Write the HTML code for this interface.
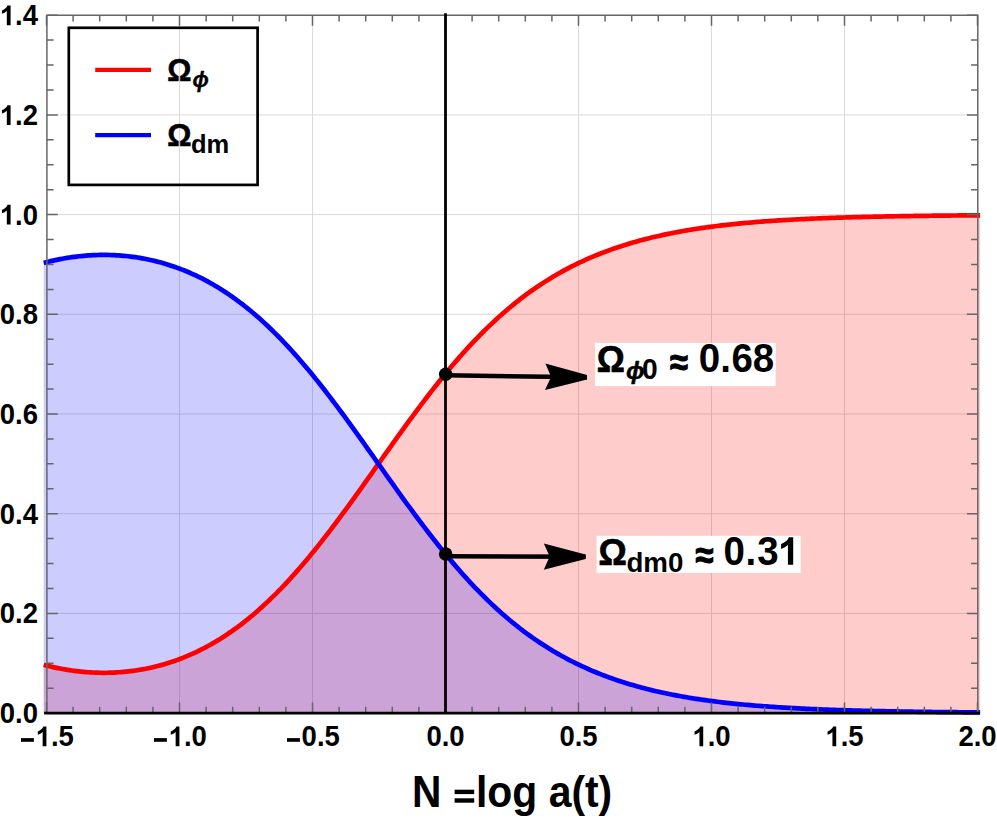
<!DOCTYPE html>
<html><head><meta charset="utf-8"><title>Omega plot</title>
<style>
html,body{margin:0;padding:0;background:#fff;}
body{width:997px;height:822px;overflow:hidden;}
svg{display:block;}
text{font-family:"Liberation Sans",sans-serif;font-weight:bold;fill:#000;}
</style></head><body>
<svg width="997" height="822" viewBox="0 0 997 822">
<rect width="997" height="822" fill="#fff"/>
<path d="M179.50,15.20 V713.10 M312.50,15.20 V713.10 M445.50,15.20 V713.10 M578.50,15.20 V713.10 M711.50,15.20 V713.10 M844.50,15.20 V713.10 M46.50,613.40 H977.50 M46.50,513.70 H977.50 M46.50,414.00 H977.50 M46.50,314.30 H977.50 M46.50,214.60 H977.50 M46.50,114.90 H977.50" stroke="#dadada" stroke-width="1" fill="none"/>
<path d="M43.71,664.79 L46.05,665.40 L48.40,665.99 L50.75,666.55 L53.09,667.09 L55.44,667.61 L57.79,668.10 L60.14,668.57 L62.48,669.01 L64.83,669.42 L67.18,669.81 L69.52,670.18 L71.87,670.53 L74.22,670.84 L76.56,671.14 L78.91,671.41 L81.26,671.66 L83.60,671.88 L85.95,672.08 L88.30,672.25 L90.64,672.40 L92.99,672.52 L95.34,672.62 L97.68,672.70 L100.03,672.75 L102.38,672.78 L104.73,672.78 L107.07,672.75 L109.42,672.71 L111.77,672.64 L114.11,672.54 L116.46,672.42 L118.81,672.27 L121.15,672.09 L123.50,671.90 L125.85,671.67 L128.19,671.42 L130.54,671.15 L132.89,670.84 L135.23,670.52 L137.58,670.16 L139.93,669.78 L142.28,669.37 L144.62,668.94 L146.97,668.47 L149.32,667.98 L151.66,667.46 L154.01,666.92 L156.36,666.34 L158.70,665.74 L161.05,665.11 L163.40,664.45 L165.74,663.76 L168.09,663.04 L170.44,662.29 L172.78,661.51 L175.13,660.70 L177.48,659.86 L179.83,658.99 L182.17,658.09 L184.52,657.16 L186.87,656.19 L189.21,655.20 L191.56,654.17 L193.91,653.10 L196.25,652.01 L198.60,650.88 L200.95,649.72 L203.29,648.52 L205.64,647.30 L207.99,646.03 L210.33,644.73 L212.68,643.40 L215.03,642.03 L217.38,640.63 L219.72,639.19 L222.07,637.71 L224.42,636.20 L226.76,634.66 L229.11,633.07 L231.46,631.45 L233.80,629.79 L236.15,628.10 L238.50,626.37 L240.84,624.60 L243.19,622.79 L245.54,620.95 L247.88,619.07 L250.23,617.15 L252.58,615.19 L254.93,613.20 L257.27,611.16 L259.62,609.09 L261.97,606.98 L264.31,604.84 L266.66,602.65 L269.01,600.43 L271.35,598.17 L273.70,595.88 L276.05,593.55 L278.39,591.18 L280.74,588.77 L283.09,586.33 L285.43,583.85 L287.78,581.33 L290.13,578.79 L292.47,576.20 L294.82,573.58 L297.17,570.93 L299.52,568.24 L301.86,565.52 L304.21,562.77 L306.56,559.99 L308.90,557.18 L311.25,554.33 L313.60,551.46 L315.94,548.55 L318.29,545.62 L320.64,542.66 L322.98,539.67 L325.33,536.66 L327.68,533.62 L330.02,530.56 L332.37,527.48 L334.72,524.37 L337.07,521.24 L339.41,518.10 L341.76,514.93 L344.11,511.74 L346.45,508.54 L348.80,505.32 L351.15,502.09 L353.49,498.84 L355.84,495.59 L358.19,492.32 L360.53,489.03 L362.88,485.75 L365.23,482.45 L367.57,479.15 L369.92,475.84 L372.27,472.52 L374.62,469.21 L376.96,465.89 L379.31,462.58 L381.66,459.26 L384.00,455.95 L386.35,452.64 L388.70,449.33 L391.04,446.03 L393.39,442.74 L395.74,439.45 L398.08,436.18 L400.43,432.91 L402.78,429.66 L405.12,426.42 L407.47,423.19 L409.82,419.98 L412.17,416.79 L414.51,413.61 L416.86,410.45 L419.21,407.31 L421.55,404.19 L423.90,401.09 L426.25,398.01 L428.59,394.95 L430.94,391.92 L433.29,388.92 L435.63,385.94 L437.98,382.98 L440.33,380.05 L442.67,377.15 L445.02,374.27 L447.37,371.43 L449.71,368.61 L452.06,365.83 L454.41,363.07 L456.76,360.35 L459.10,357.65 L461.45,354.99 L463.80,352.36 L466.14,349.76 L468.49,347.19 L470.84,344.66 L473.18,342.16 L475.53,339.69 L477.88,337.26 L480.22,334.86 L482.57,332.49 L484.92,330.16 L487.26,327.86 L489.61,325.60 L491.96,323.37 L494.31,321.17 L496.65,319.01 L499.00,316.88 L501.35,314.78 L503.69,312.72 L506.04,310.69 L508.39,308.70 L510.73,306.74 L513.08,304.81 L515.43,302.91 L517.77,301.05 L520.12,299.22 L522.47,297.42 L524.81,295.65 L527.16,293.91 L529.51,292.21 L531.86,290.53 L534.20,288.89 L536.55,287.27 L538.90,285.69 L541.24,284.14 L543.59,282.61 L545.94,281.11 L548.28,279.65 L550.63,278.21 L552.98,276.79 L555.32,275.41 L557.67,274.05 L560.02,272.72 L562.36,271.42 L564.71,270.14 L567.06,268.88 L569.41,267.65 L571.75,266.45 L574.10,265.27 L576.45,264.11 L578.79,262.98 L581.14,261.87 L583.49,260.79 L585.83,259.72 L588.18,258.68 L590.53,257.66 L592.87,256.66 L595.22,255.68 L597.57,254.72 L599.91,253.78 L602.26,252.87 L604.61,251.97 L606.95,251.09 L609.30,250.23 L611.65,249.39 L614.00,248.56 L616.34,247.76 L618.69,246.97 L621.04,246.20 L623.38,245.44 L625.73,244.70 L628.08,243.98 L630.42,243.28 L632.77,242.59 L635.12,241.91 L637.46,241.25 L639.81,240.60 L642.16,239.97 L644.50,239.36 L646.85,238.75 L649.20,238.17 L651.55,237.59 L653.89,237.03 L656.24,236.48 L658.59,235.94 L660.93,235.42 L663.28,234.90 L665.63,234.40 L667.97,233.91 L670.32,233.44 L672.67,232.97 L675.01,232.52 L677.36,232.07 L679.71,231.64 L682.05,231.21 L684.40,230.80 L686.75,230.40 L689.10,230.00 L691.44,229.62 L693.79,229.24 L696.14,228.88 L698.48,228.52 L700.83,228.17 L703.18,227.83 L705.52,227.50 L707.87,227.17 L710.22,226.86 L712.56,226.55 L714.91,226.25 L717.26,225.96 L719.60,225.67 L721.95,225.39 L724.30,225.12 L726.65,224.86 L728.99,224.60 L731.34,224.35 L733.69,224.10 L736.03,223.86 L738.38,223.63 L740.73,223.40 L743.07,223.18 L745.42,222.96 L747.77,222.75 L750.11,222.55 L752.46,222.35 L754.81,222.15 L757.15,221.96 L759.50,221.78 L761.85,221.60 L764.20,221.42 L766.54,221.25 L768.89,221.08 L771.24,220.92 L773.58,220.76 L775.93,220.61 L778.28,220.46 L780.62,220.31 L782.97,220.17 L785.32,220.03 L787.66,219.89 L790.01,219.76 L792.36,219.63 L794.70,219.50 L797.05,219.38 L799.40,219.26 L801.74,219.15 L804.09,219.03 L806.44,218.92 L808.79,218.81 L811.13,218.71 L813.48,218.61 L815.83,218.51 L818.17,218.41 L820.52,218.31 L822.87,218.22 L825.21,218.13 L827.56,218.04 L829.91,217.96 L832.25,217.88 L834.60,217.79 L836.95,217.72 L839.29,217.64 L841.64,217.56 L843.99,217.49 L846.34,217.42 L848.68,217.35 L851.03,217.28 L853.38,217.21 L855.72,217.15 L858.07,217.09 L860.42,217.03 L862.76,216.97 L865.11,216.91 L867.46,216.85 L869.80,216.79 L872.15,216.74 L874.50,216.69 L876.84,216.64 L879.19,216.59 L881.54,216.54 L883.89,216.49 L886.23,216.44 L888.58,216.40 L890.93,216.35 L893.27,216.31 L895.62,216.27 L897.97,216.23 L900.31,216.19 L902.66,216.15 L905.01,216.11 L907.35,216.07 L909.70,216.04 L912.05,216.00 L914.39,215.97 L916.74,215.93 L919.09,215.90 L921.44,215.87 L923.78,215.84 L926.13,215.81 L928.48,215.78 L930.82,215.75 L933.17,215.72 L935.52,215.70 L937.86,215.67 L940.21,215.64 L942.56,215.62 L944.90,215.59 L947.25,215.57 L949.60,215.54 L951.94,215.52 L954.29,215.50 L956.64,215.48 L958.98,215.46 L961.33,215.43 L963.68,215.41 L966.03,215.39 L968.37,215.38 L970.72,215.36 L973.07,215.34 L975.41,215.32 L977.76,215.30 L980.11,215.29 L980.11,713.10 L43.71,713.10 Z" fill="#ff0000" fill-opacity="0.2"/>
<path d="M43.71,262.91 L46.05,262.30 L48.40,261.71 L50.75,261.15 L53.09,260.61 L55.44,260.09 L57.79,259.60 L60.14,259.13 L62.48,258.69 L64.83,258.28 L67.18,257.89 L69.52,257.52 L71.87,257.17 L74.22,256.86 L76.56,256.56 L78.91,256.29 L81.26,256.04 L83.60,255.82 L85.95,255.62 L88.30,255.45 L90.64,255.30 L92.99,255.18 L95.34,255.08 L97.68,255.00 L100.03,254.95 L102.38,254.92 L104.73,254.92 L107.07,254.95 L109.42,254.99 L111.77,255.06 L114.11,255.16 L116.46,255.28 L118.81,255.43 L121.15,255.61 L123.50,255.80 L125.85,256.03 L128.19,256.28 L130.54,256.55 L132.89,256.86 L135.23,257.18 L137.58,257.54 L139.93,257.92 L142.28,258.33 L144.62,258.76 L146.97,259.23 L149.32,259.72 L151.66,260.24 L154.01,260.78 L156.36,261.36 L158.70,261.96 L161.05,262.59 L163.40,263.25 L165.74,263.94 L168.09,264.66 L170.44,265.41 L172.78,266.19 L175.13,267.00 L177.48,267.84 L179.83,268.71 L182.17,269.61 L184.52,270.54 L186.87,271.51 L189.21,272.50 L191.56,273.53 L193.91,274.60 L196.25,275.69 L198.60,276.82 L200.95,277.98 L203.29,279.18 L205.64,280.40 L207.99,281.67 L210.33,282.97 L212.68,284.30 L215.03,285.67 L217.38,287.07 L219.72,288.51 L222.07,289.99 L224.42,291.50 L226.76,293.04 L229.11,294.63 L231.46,296.25 L233.80,297.91 L236.15,299.60 L238.50,301.33 L240.84,303.10 L243.19,304.91 L245.54,306.75 L247.88,308.63 L250.23,310.55 L252.58,312.51 L254.93,314.50 L257.27,316.54 L259.62,318.61 L261.97,320.72 L264.31,322.86 L266.66,325.05 L269.01,327.27 L271.35,329.53 L273.70,331.82 L276.05,334.15 L278.39,336.52 L280.74,338.93 L283.09,341.37 L285.43,343.85 L287.78,346.37 L290.13,348.91 L292.47,351.50 L294.82,354.12 L297.17,356.77 L299.52,359.46 L301.86,362.18 L304.21,364.93 L306.56,367.71 L308.90,370.52 L311.25,373.37 L313.60,376.24 L315.94,379.15 L318.29,382.08 L320.64,385.04 L322.98,388.03 L325.33,391.04 L327.68,394.08 L330.02,397.14 L332.37,400.22 L334.72,403.33 L337.07,406.46 L339.41,409.60 L341.76,412.77 L344.11,415.96 L346.45,419.16 L348.80,422.38 L351.15,425.61 L353.49,428.86 L355.84,432.11 L358.19,435.38 L360.53,438.67 L362.88,441.95 L365.23,445.25 L367.57,448.55 L369.92,451.86 L372.27,455.18 L374.62,458.49 L376.96,461.81 L379.31,465.12 L381.66,468.44 L384.00,471.75 L386.35,475.06 L388.70,478.37 L391.04,481.67 L393.39,484.96 L395.74,488.25 L398.08,491.52 L400.43,494.79 L402.78,498.04 L405.12,501.28 L407.47,504.51 L409.82,507.72 L412.17,510.91 L414.51,514.09 L416.86,517.25 L419.21,520.39 L421.55,523.51 L423.90,526.61 L426.25,529.69 L428.59,532.75 L430.94,535.78 L433.29,538.78 L435.63,541.76 L437.98,544.72 L440.33,547.65 L442.67,550.55 L445.02,553.43 L447.37,556.27 L449.71,559.09 L452.06,561.87 L454.41,564.63 L456.76,567.35 L459.10,570.05 L461.45,572.71 L463.80,575.34 L466.14,577.94 L468.49,580.51 L470.84,583.04 L473.18,585.54 L475.53,588.01 L477.88,590.44 L480.22,592.84 L482.57,595.21 L484.92,597.54 L487.26,599.84 L489.61,602.10 L491.96,604.33 L494.31,606.53 L496.65,608.69 L499.00,610.82 L501.35,612.92 L503.69,614.98 L506.04,617.01 L508.39,619.00 L510.73,620.96 L513.08,622.89 L515.43,624.79 L517.77,626.65 L520.12,628.48 L522.47,630.28 L524.81,632.05 L527.16,633.79 L529.51,635.49 L531.86,637.17 L534.20,638.81 L536.55,640.43 L538.90,642.01 L541.24,643.56 L543.59,645.09 L545.94,646.59 L548.28,648.05 L550.63,649.49 L552.98,650.91 L555.32,652.29 L557.67,653.65 L560.02,654.98 L562.36,656.28 L564.71,657.56 L567.06,658.82 L569.41,660.05 L571.75,661.25 L574.10,662.43 L576.45,663.59 L578.79,664.72 L581.14,665.83 L583.49,666.91 L585.83,667.98 L588.18,669.02 L590.53,670.04 L592.87,671.04 L595.22,672.02 L597.57,672.98 L599.91,673.92 L602.26,674.83 L604.61,675.73 L606.95,676.61 L609.30,677.47 L611.65,678.31 L614.00,679.14 L616.34,679.94 L618.69,680.73 L621.04,681.50 L623.38,682.26 L625.73,683.00 L628.08,683.72 L630.42,684.42 L632.77,685.11 L635.12,685.79 L637.46,686.45 L639.81,687.10 L642.16,687.73 L644.50,688.34 L646.85,688.95 L649.20,689.53 L651.55,690.11 L653.89,690.67 L656.24,691.22 L658.59,691.76 L660.93,692.28 L663.28,692.80 L665.63,693.30 L667.97,693.79 L670.32,694.26 L672.67,694.73 L675.01,695.18 L677.36,695.63 L679.71,696.06 L682.05,696.49 L684.40,696.90 L686.75,697.30 L689.10,697.70 L691.44,698.08 L693.79,698.46 L696.14,698.82 L698.48,699.18 L700.83,699.53 L703.18,699.87 L705.52,700.20 L707.87,700.53 L710.22,700.84 L712.56,701.15 L714.91,701.45 L717.26,701.74 L719.60,702.03 L721.95,702.31 L724.30,702.58 L726.65,702.84 L728.99,703.10 L731.34,703.35 L733.69,703.60 L736.03,703.84 L738.38,704.07 L740.73,704.30 L743.07,704.52 L745.42,704.74 L747.77,704.95 L750.11,705.15 L752.46,705.35 L754.81,705.55 L757.15,705.74 L759.50,705.92 L761.85,706.10 L764.20,706.28 L766.54,706.45 L768.89,706.62 L771.24,706.78 L773.58,706.94 L775.93,707.09 L778.28,707.24 L780.62,707.39 L782.97,707.53 L785.32,707.67 L787.66,707.81 L790.01,707.94 L792.36,708.07 L794.70,708.20 L797.05,708.32 L799.40,708.44 L801.74,708.55 L804.09,708.67 L806.44,708.78 L808.79,708.89 L811.13,708.99 L813.48,709.09 L815.83,709.19 L818.17,709.29 L820.52,709.39 L822.87,709.48 L825.21,709.57 L827.56,709.66 L829.91,709.74 L832.25,709.82 L834.60,709.91 L836.95,709.98 L839.29,710.06 L841.64,710.14 L843.99,710.21 L846.34,710.28 L848.68,710.35 L851.03,710.42 L853.38,710.49 L855.72,710.55 L858.07,710.61 L860.42,710.67 L862.76,710.73 L865.11,710.79 L867.46,710.85 L869.80,710.91 L872.15,710.96 L874.50,711.01 L876.84,711.06 L879.19,711.11 L881.54,711.16 L883.89,711.21 L886.23,711.26 L888.58,711.30 L890.93,711.35 L893.27,711.39 L895.62,711.43 L897.97,711.47 L900.31,711.51 L902.66,711.55 L905.01,711.59 L907.35,711.63 L909.70,711.66 L912.05,711.70 L914.39,711.73 L916.74,711.77 L919.09,711.80 L921.44,711.83 L923.78,711.86 L926.13,711.89 L928.48,711.92 L930.82,711.95 L933.17,711.98 L935.52,712.00 L937.86,712.03 L940.21,712.06 L942.56,712.08 L944.90,712.11 L947.25,712.13 L949.60,712.16 L951.94,712.18 L954.29,712.20 L956.64,712.22 L958.98,712.24 L961.33,712.27 L963.68,712.29 L966.03,712.31 L968.37,712.32 L970.72,712.34 L973.07,712.36 L975.41,712.38 L977.76,712.40 L980.11,712.41 L980.11,713.10 L43.71,713.10 Z" fill="#0000ff" fill-opacity="0.2"/>
<path d="M43.71,664.79 L46.05,665.40 L48.40,665.99 L50.75,666.55 L53.09,667.09 L55.44,667.61 L57.79,668.10 L60.14,668.57 L62.48,669.01 L64.83,669.42 L67.18,669.81 L69.52,670.18 L71.87,670.53 L74.22,670.84 L76.56,671.14 L78.91,671.41 L81.26,671.66 L83.60,671.88 L85.95,672.08 L88.30,672.25 L90.64,672.40 L92.99,672.52 L95.34,672.62 L97.68,672.70 L100.03,672.75 L102.38,672.78 L104.73,672.78 L107.07,672.75 L109.42,672.71 L111.77,672.64 L114.11,672.54 L116.46,672.42 L118.81,672.27 L121.15,672.09 L123.50,671.90 L125.85,671.67 L128.19,671.42 L130.54,671.15 L132.89,670.84 L135.23,670.52 L137.58,670.16 L139.93,669.78 L142.28,669.37 L144.62,668.94 L146.97,668.47 L149.32,667.98 L151.66,667.46 L154.01,666.92 L156.36,666.34 L158.70,665.74 L161.05,665.11 L163.40,664.45 L165.74,663.76 L168.09,663.04 L170.44,662.29 L172.78,661.51 L175.13,660.70 L177.48,659.86 L179.83,658.99 L182.17,658.09 L184.52,657.16 L186.87,656.19 L189.21,655.20 L191.56,654.17 L193.91,653.10 L196.25,652.01 L198.60,650.88 L200.95,649.72 L203.29,648.52 L205.64,647.30 L207.99,646.03 L210.33,644.73 L212.68,643.40 L215.03,642.03 L217.38,640.63 L219.72,639.19 L222.07,637.71 L224.42,636.20 L226.76,634.66 L229.11,633.07 L231.46,631.45 L233.80,629.79 L236.15,628.10 L238.50,626.37 L240.84,624.60 L243.19,622.79 L245.54,620.95 L247.88,619.07 L250.23,617.15 L252.58,615.19 L254.93,613.20 L257.27,611.16 L259.62,609.09 L261.97,606.98 L264.31,604.84 L266.66,602.65 L269.01,600.43 L271.35,598.17 L273.70,595.88 L276.05,593.55 L278.39,591.18 L280.74,588.77 L283.09,586.33 L285.43,583.85 L287.78,581.33 L290.13,578.79 L292.47,576.20 L294.82,573.58 L297.17,570.93 L299.52,568.24 L301.86,565.52 L304.21,562.77 L306.56,559.99 L308.90,557.18 L311.25,554.33 L313.60,551.46 L315.94,548.55 L318.29,545.62 L320.64,542.66 L322.98,539.67 L325.33,536.66 L327.68,533.62 L330.02,530.56 L332.37,527.48 L334.72,524.37 L337.07,521.24 L339.41,518.10 L341.76,514.93 L344.11,511.74 L346.45,508.54 L348.80,505.32 L351.15,502.09 L353.49,498.84 L355.84,495.59 L358.19,492.32 L360.53,489.03 L362.88,485.75 L365.23,482.45 L367.57,479.15 L369.92,475.84 L372.27,472.52 L374.62,469.21 L376.96,465.89 L379.31,462.58 L381.66,459.26 L384.00,455.95 L386.35,452.64 L388.70,449.33 L391.04,446.03 L393.39,442.74 L395.74,439.45 L398.08,436.18 L400.43,432.91 L402.78,429.66 L405.12,426.42 L407.47,423.19 L409.82,419.98 L412.17,416.79 L414.51,413.61 L416.86,410.45 L419.21,407.31 L421.55,404.19 L423.90,401.09 L426.25,398.01 L428.59,394.95 L430.94,391.92 L433.29,388.92 L435.63,385.94 L437.98,382.98 L440.33,380.05 L442.67,377.15 L445.02,374.27 L447.37,371.43 L449.71,368.61 L452.06,365.83 L454.41,363.07 L456.76,360.35 L459.10,357.65 L461.45,354.99 L463.80,352.36 L466.14,349.76 L468.49,347.19 L470.84,344.66 L473.18,342.16 L475.53,339.69 L477.88,337.26 L480.22,334.86 L482.57,332.49 L484.92,330.16 L487.26,327.86 L489.61,325.60 L491.96,323.37 L494.31,321.17 L496.65,319.01 L499.00,316.88 L501.35,314.78 L503.69,312.72 L506.04,310.69 L508.39,308.70 L510.73,306.74 L513.08,304.81 L515.43,302.91 L517.77,301.05 L520.12,299.22 L522.47,297.42 L524.81,295.65 L527.16,293.91 L529.51,292.21 L531.86,290.53 L534.20,288.89 L536.55,287.27 L538.90,285.69 L541.24,284.14 L543.59,282.61 L545.94,281.11 L548.28,279.65 L550.63,278.21 L552.98,276.79 L555.32,275.41 L557.67,274.05 L560.02,272.72 L562.36,271.42 L564.71,270.14 L567.06,268.88 L569.41,267.65 L571.75,266.45 L574.10,265.27 L576.45,264.11 L578.79,262.98 L581.14,261.87 L583.49,260.79 L585.83,259.72 L588.18,258.68 L590.53,257.66 L592.87,256.66 L595.22,255.68 L597.57,254.72 L599.91,253.78 L602.26,252.87 L604.61,251.97 L606.95,251.09 L609.30,250.23 L611.65,249.39 L614.00,248.56 L616.34,247.76 L618.69,246.97 L621.04,246.20 L623.38,245.44 L625.73,244.70 L628.08,243.98 L630.42,243.28 L632.77,242.59 L635.12,241.91 L637.46,241.25 L639.81,240.60 L642.16,239.97 L644.50,239.36 L646.85,238.75 L649.20,238.17 L651.55,237.59 L653.89,237.03 L656.24,236.48 L658.59,235.94 L660.93,235.42 L663.28,234.90 L665.63,234.40 L667.97,233.91 L670.32,233.44 L672.67,232.97 L675.01,232.52 L677.36,232.07 L679.71,231.64 L682.05,231.21 L684.40,230.80 L686.75,230.40 L689.10,230.00 L691.44,229.62 L693.79,229.24 L696.14,228.88 L698.48,228.52 L700.83,228.17 L703.18,227.83 L705.52,227.50 L707.87,227.17 L710.22,226.86 L712.56,226.55 L714.91,226.25 L717.26,225.96 L719.60,225.67 L721.95,225.39 L724.30,225.12 L726.65,224.86 L728.99,224.60 L731.34,224.35 L733.69,224.10 L736.03,223.86 L738.38,223.63 L740.73,223.40 L743.07,223.18 L745.42,222.96 L747.77,222.75 L750.11,222.55 L752.46,222.35 L754.81,222.15 L757.15,221.96 L759.50,221.78 L761.85,221.60 L764.20,221.42 L766.54,221.25 L768.89,221.08 L771.24,220.92 L773.58,220.76 L775.93,220.61 L778.28,220.46 L780.62,220.31 L782.97,220.17 L785.32,220.03 L787.66,219.89 L790.01,219.76 L792.36,219.63 L794.70,219.50 L797.05,219.38 L799.40,219.26 L801.74,219.15 L804.09,219.03 L806.44,218.92 L808.79,218.81 L811.13,218.71 L813.48,218.61 L815.83,218.51 L818.17,218.41 L820.52,218.31 L822.87,218.22 L825.21,218.13 L827.56,218.04 L829.91,217.96 L832.25,217.88 L834.60,217.79 L836.95,217.72 L839.29,217.64 L841.64,217.56 L843.99,217.49 L846.34,217.42 L848.68,217.35 L851.03,217.28 L853.38,217.21 L855.72,217.15 L858.07,217.09 L860.42,217.03 L862.76,216.97 L865.11,216.91 L867.46,216.85 L869.80,216.79 L872.15,216.74 L874.50,216.69 L876.84,216.64 L879.19,216.59 L881.54,216.54 L883.89,216.49 L886.23,216.44 L888.58,216.40 L890.93,216.35 L893.27,216.31 L895.62,216.27 L897.97,216.23 L900.31,216.19 L902.66,216.15 L905.01,216.11 L907.35,216.07 L909.70,216.04 L912.05,216.00 L914.39,215.97 L916.74,215.93 L919.09,215.90 L921.44,215.87 L923.78,215.84 L926.13,215.81 L928.48,215.78 L930.82,215.75 L933.17,215.72 L935.52,215.70 L937.86,215.67 L940.21,215.64 L942.56,215.62 L944.90,215.59 L947.25,215.57 L949.60,215.54 L951.94,215.52 L954.29,215.50 L956.64,215.48 L958.98,215.46 L961.33,215.43 L963.68,215.41 L966.03,215.39 L968.37,215.38 L970.72,215.36 L973.07,215.34 L975.41,215.32 L977.76,215.30 L980.11,215.29" fill="none" stroke="#ff0000" stroke-width="4.7" stroke-linejoin="round"/>
<path d="M43.71,262.91 L46.05,262.30 L48.40,261.71 L50.75,261.15 L53.09,260.61 L55.44,260.09 L57.79,259.60 L60.14,259.13 L62.48,258.69 L64.83,258.28 L67.18,257.89 L69.52,257.52 L71.87,257.17 L74.22,256.86 L76.56,256.56 L78.91,256.29 L81.26,256.04 L83.60,255.82 L85.95,255.62 L88.30,255.45 L90.64,255.30 L92.99,255.18 L95.34,255.08 L97.68,255.00 L100.03,254.95 L102.38,254.92 L104.73,254.92 L107.07,254.95 L109.42,254.99 L111.77,255.06 L114.11,255.16 L116.46,255.28 L118.81,255.43 L121.15,255.61 L123.50,255.80 L125.85,256.03 L128.19,256.28 L130.54,256.55 L132.89,256.86 L135.23,257.18 L137.58,257.54 L139.93,257.92 L142.28,258.33 L144.62,258.76 L146.97,259.23 L149.32,259.72 L151.66,260.24 L154.01,260.78 L156.36,261.36 L158.70,261.96 L161.05,262.59 L163.40,263.25 L165.74,263.94 L168.09,264.66 L170.44,265.41 L172.78,266.19 L175.13,267.00 L177.48,267.84 L179.83,268.71 L182.17,269.61 L184.52,270.54 L186.87,271.51 L189.21,272.50 L191.56,273.53 L193.91,274.60 L196.25,275.69 L198.60,276.82 L200.95,277.98 L203.29,279.18 L205.64,280.40 L207.99,281.67 L210.33,282.97 L212.68,284.30 L215.03,285.67 L217.38,287.07 L219.72,288.51 L222.07,289.99 L224.42,291.50 L226.76,293.04 L229.11,294.63 L231.46,296.25 L233.80,297.91 L236.15,299.60 L238.50,301.33 L240.84,303.10 L243.19,304.91 L245.54,306.75 L247.88,308.63 L250.23,310.55 L252.58,312.51 L254.93,314.50 L257.27,316.54 L259.62,318.61 L261.97,320.72 L264.31,322.86 L266.66,325.05 L269.01,327.27 L271.35,329.53 L273.70,331.82 L276.05,334.15 L278.39,336.52 L280.74,338.93 L283.09,341.37 L285.43,343.85 L287.78,346.37 L290.13,348.91 L292.47,351.50 L294.82,354.12 L297.17,356.77 L299.52,359.46 L301.86,362.18 L304.21,364.93 L306.56,367.71 L308.90,370.52 L311.25,373.37 L313.60,376.24 L315.94,379.15 L318.29,382.08 L320.64,385.04 L322.98,388.03 L325.33,391.04 L327.68,394.08 L330.02,397.14 L332.37,400.22 L334.72,403.33 L337.07,406.46 L339.41,409.60 L341.76,412.77 L344.11,415.96 L346.45,419.16 L348.80,422.38 L351.15,425.61 L353.49,428.86 L355.84,432.11 L358.19,435.38 L360.53,438.67 L362.88,441.95 L365.23,445.25 L367.57,448.55 L369.92,451.86 L372.27,455.18 L374.62,458.49 L376.96,461.81 L379.31,465.12 L381.66,468.44 L384.00,471.75 L386.35,475.06 L388.70,478.37 L391.04,481.67 L393.39,484.96 L395.74,488.25 L398.08,491.52 L400.43,494.79 L402.78,498.04 L405.12,501.28 L407.47,504.51 L409.82,507.72 L412.17,510.91 L414.51,514.09 L416.86,517.25 L419.21,520.39 L421.55,523.51 L423.90,526.61 L426.25,529.69 L428.59,532.75 L430.94,535.78 L433.29,538.78 L435.63,541.76 L437.98,544.72 L440.33,547.65 L442.67,550.55 L445.02,553.43 L447.37,556.27 L449.71,559.09 L452.06,561.87 L454.41,564.63 L456.76,567.35 L459.10,570.05 L461.45,572.71 L463.80,575.34 L466.14,577.94 L468.49,580.51 L470.84,583.04 L473.18,585.54 L475.53,588.01 L477.88,590.44 L480.22,592.84 L482.57,595.21 L484.92,597.54 L487.26,599.84 L489.61,602.10 L491.96,604.33 L494.31,606.53 L496.65,608.69 L499.00,610.82 L501.35,612.92 L503.69,614.98 L506.04,617.01 L508.39,619.00 L510.73,620.96 L513.08,622.89 L515.43,624.79 L517.77,626.65 L520.12,628.48 L522.47,630.28 L524.81,632.05 L527.16,633.79 L529.51,635.49 L531.86,637.17 L534.20,638.81 L536.55,640.43 L538.90,642.01 L541.24,643.56 L543.59,645.09 L545.94,646.59 L548.28,648.05 L550.63,649.49 L552.98,650.91 L555.32,652.29 L557.67,653.65 L560.02,654.98 L562.36,656.28 L564.71,657.56 L567.06,658.82 L569.41,660.05 L571.75,661.25 L574.10,662.43 L576.45,663.59 L578.79,664.72 L581.14,665.83 L583.49,666.91 L585.83,667.98 L588.18,669.02 L590.53,670.04 L592.87,671.04 L595.22,672.02 L597.57,672.98 L599.91,673.92 L602.26,674.83 L604.61,675.73 L606.95,676.61 L609.30,677.47 L611.65,678.31 L614.00,679.14 L616.34,679.94 L618.69,680.73 L621.04,681.50 L623.38,682.26 L625.73,683.00 L628.08,683.72 L630.42,684.42 L632.77,685.11 L635.12,685.79 L637.46,686.45 L639.81,687.10 L642.16,687.73 L644.50,688.34 L646.85,688.95 L649.20,689.53 L651.55,690.11 L653.89,690.67 L656.24,691.22 L658.59,691.76 L660.93,692.28 L663.28,692.80 L665.63,693.30 L667.97,693.79 L670.32,694.26 L672.67,694.73 L675.01,695.18 L677.36,695.63 L679.71,696.06 L682.05,696.49 L684.40,696.90 L686.75,697.30 L689.10,697.70 L691.44,698.08 L693.79,698.46 L696.14,698.82 L698.48,699.18 L700.83,699.53 L703.18,699.87 L705.52,700.20 L707.87,700.53 L710.22,700.84 L712.56,701.15 L714.91,701.45 L717.26,701.74 L719.60,702.03 L721.95,702.31 L724.30,702.58 L726.65,702.84 L728.99,703.10 L731.34,703.35 L733.69,703.60 L736.03,703.84 L738.38,704.07 L740.73,704.30 L743.07,704.52 L745.42,704.74 L747.77,704.95 L750.11,705.15 L752.46,705.35 L754.81,705.55 L757.15,705.74 L759.50,705.92 L761.85,706.10 L764.20,706.28 L766.54,706.45 L768.89,706.62 L771.24,706.78 L773.58,706.94 L775.93,707.09 L778.28,707.24 L780.62,707.39 L782.97,707.53 L785.32,707.67 L787.66,707.81 L790.01,707.94 L792.36,708.07 L794.70,708.20 L797.05,708.32 L799.40,708.44 L801.74,708.55 L804.09,708.67 L806.44,708.78 L808.79,708.89 L811.13,708.99 L813.48,709.09 L815.83,709.19 L818.17,709.29 L820.52,709.39 L822.87,709.48 L825.21,709.57 L827.56,709.66 L829.91,709.74 L832.25,709.82 L834.60,709.91 L836.95,709.98 L839.29,710.06 L841.64,710.14 L843.99,710.21 L846.34,710.28 L848.68,710.35 L851.03,710.42 L853.38,710.49 L855.72,710.55 L858.07,710.61 L860.42,710.67 L862.76,710.73 L865.11,710.79 L867.46,710.85 L869.80,710.91 L872.15,710.96 L874.50,711.01 L876.84,711.06 L879.19,711.11 L881.54,711.16 L883.89,711.21 L886.23,711.26 L888.58,711.30 L890.93,711.35 L893.27,711.39 L895.62,711.43 L897.97,711.47 L900.31,711.51 L902.66,711.55 L905.01,711.59 L907.35,711.63 L909.70,711.66 L912.05,711.70 L914.39,711.73 L916.74,711.77 L919.09,711.80 L921.44,711.83 L923.78,711.86 L926.13,711.89 L928.48,711.92 L930.82,711.95 L933.17,711.98 L935.52,712.00 L937.86,712.03 L940.21,712.06 L942.56,712.08 L944.90,712.11 L947.25,712.13 L949.60,712.16 L951.94,712.18 L954.29,712.20 L956.64,712.22 L958.98,712.24 L961.33,712.27 L963.68,712.29 L966.03,712.31 L968.37,712.32 L970.72,712.34 L973.07,712.36 L975.41,712.38 L977.76,712.40 L980.11,712.41" fill="none" stroke="#0000ff" stroke-width="4.7" stroke-linejoin="round"/>
<path d="M46.90,713.10 V15.20 H977.80 V713.10" fill="none" stroke="#666" stroke-width="1.5"/>
<path d="M46.50,15.20 v10.50 M46.50,713.10 v-10.50 M73.10,15.20 v6.30 M73.10,713.10 v-6.30 M99.70,15.20 v6.30 M99.70,713.10 v-6.30 M126.30,15.20 v6.30 M126.30,713.10 v-6.30 M152.90,15.20 v6.30 M152.90,713.10 v-6.30 M179.50,15.20 v10.50 M179.50,713.10 v-10.50 M206.10,15.20 v6.30 M206.10,713.10 v-6.30 M232.70,15.20 v6.30 M232.70,713.10 v-6.30 M259.30,15.20 v6.30 M259.30,713.10 v-6.30 M285.90,15.20 v6.30 M285.90,713.10 v-6.30 M312.50,15.20 v10.50 M312.50,713.10 v-10.50 M339.10,15.20 v6.30 M339.10,713.10 v-6.30 M365.70,15.20 v6.30 M365.70,713.10 v-6.30 M392.30,15.20 v6.30 M392.30,713.10 v-6.30 M418.90,15.20 v6.30 M418.90,713.10 v-6.30 M445.50,15.20 v10.50 M445.50,713.10 v-10.50 M472.10,15.20 v6.30 M472.10,713.10 v-6.30 M498.70,15.20 v6.30 M498.70,713.10 v-6.30 M525.30,15.20 v6.30 M525.30,713.10 v-6.30 M551.90,15.20 v6.30 M551.90,713.10 v-6.30 M578.50,15.20 v10.50 M578.50,713.10 v-10.50 M605.10,15.20 v6.30 M605.10,713.10 v-6.30 M631.70,15.20 v6.30 M631.70,713.10 v-6.30 M658.30,15.20 v6.30 M658.30,713.10 v-6.30 M684.90,15.20 v6.30 M684.90,713.10 v-6.30 M711.50,15.20 v10.50 M711.50,713.10 v-10.50 M738.10,15.20 v6.30 M738.10,713.10 v-6.30 M764.70,15.20 v6.30 M764.70,713.10 v-6.30 M791.30,15.20 v6.30 M791.30,713.10 v-6.30 M817.90,15.20 v6.30 M817.90,713.10 v-6.30 M844.50,15.20 v10.50 M844.50,713.10 v-10.50 M871.10,15.20 v6.30 M871.10,713.10 v-6.30 M897.70,15.20 v6.30 M897.70,713.10 v-6.30 M924.30,15.20 v6.30 M924.30,713.10 v-6.30 M950.90,15.20 v6.30 M950.90,713.10 v-6.30 M977.50,15.20 v10.50 M977.50,713.10 v-10.50 M46.90,713.10 h10.90 M977.80,713.10 h-10.90 M46.90,688.18 h6.70 M977.80,688.18 h-6.70 M46.90,663.25 h6.70 M977.80,663.25 h-6.70 M46.90,638.33 h6.70 M977.80,638.33 h-6.70 M46.90,613.40 h10.90 M977.80,613.40 h-10.90 M46.90,588.48 h6.70 M977.80,588.48 h-6.70 M46.90,563.55 h6.70 M977.80,563.55 h-6.70 M46.90,538.62 h6.70 M977.80,538.62 h-6.70 M46.90,513.70 h10.90 M977.80,513.70 h-10.90 M46.90,488.77 h6.70 M977.80,488.77 h-6.70 M46.90,463.85 h6.70 M977.80,463.85 h-6.70 M46.90,438.93 h6.70 M977.80,438.93 h-6.70 M46.90,414.00 h10.90 M977.80,414.00 h-10.90 M46.90,389.07 h6.70 M977.80,389.07 h-6.70 M46.90,364.15 h6.70 M977.80,364.15 h-6.70 M46.90,339.23 h6.70 M977.80,339.23 h-6.70 M46.90,314.30 h10.90 M977.80,314.30 h-10.90 M46.90,289.38 h6.70 M977.80,289.38 h-6.70 M46.90,264.45 h6.70 M977.80,264.45 h-6.70 M46.90,239.52 h6.70 M977.80,239.52 h-6.70 M46.90,214.60 h10.90 M977.80,214.60 h-10.90 M46.90,189.67 h6.70 M977.80,189.67 h-6.70 M46.90,164.75 h6.70 M977.80,164.75 h-6.70 M46.90,139.82 h6.70 M977.80,139.82 h-6.70 M46.90,114.90 h10.90 M977.80,114.90 h-10.90 M46.90,89.98 h6.70 M977.80,89.98 h-6.70 M46.90,65.05 h6.70 M977.80,65.05 h-6.70 M46.90,40.12 h6.70 M977.80,40.12 h-6.70 M46.90,15.20 h10.90 M977.80,15.20 h-10.90" stroke="#666" stroke-width="1.5" fill="none"/>
<path d="M44.1,713.10 H980.1" stroke="#000" stroke-width="2.6"/>
<path d="M445.5,13.2 V713.10" stroke="#000" stroke-width="2.8"/>
<rect x="21.00" y="738.1" width="12.9" height="3.7" fill="#000"/>
<path transform="translate(35.60,746.20) scale(0.01343,-0.01343)" d="M806 0H525V1059Q371 915 162 846V1101Q272 1137 401 1237.5T578 1472H806Z" fill="#000"/><text transform="translate(50.89,746.20) scale(1.000,1.070)" font-size="27.50" text-anchor="start">.5</text>
<rect x="154.00" y="738.1" width="12.9" height="3.7" fill="#000"/>
<path transform="translate(168.60,746.20) scale(0.01343,-0.01343)" d="M806 0H525V1059Q371 915 162 846V1101Q272 1137 401 1237.5T578 1472H806Z" fill="#000"/><text transform="translate(183.89,746.20) scale(1.000,1.070)" font-size="27.50" text-anchor="start">.0</text>
<rect x="287.00" y="738.1" width="12.9" height="3.7" fill="#000"/>
<text transform="translate(301.60,746.20) scale(1.000,1.070)" font-size="27.50" text-anchor="start">0.5</text>
<text transform="translate(426.39,746.20) scale(1.000,1.070)" font-size="27.50" text-anchor="start">0.0</text>
<text transform="translate(559.39,746.20) scale(1.000,1.070)" font-size="27.50" text-anchor="start">0.5</text>
<path transform="translate(692.39,746.20) scale(0.01343,-0.01343)" d="M806 0H525V1059Q371 915 162 846V1101Q272 1137 401 1237.5T578 1472H806Z" fill="#000"/><text transform="translate(707.68,746.20) scale(1.000,1.070)" font-size="27.50" text-anchor="start">.0</text>
<path transform="translate(825.39,746.20) scale(0.01343,-0.01343)" d="M806 0H525V1059Q371 915 162 846V1101Q272 1137 401 1237.5T578 1472H806Z" fill="#000"/><text transform="translate(840.68,746.20) scale(1.000,1.070)" font-size="27.50" text-anchor="start">.5</text>
<text transform="translate(958.39,746.20) scale(1.000,1.070)" font-size="27.50" text-anchor="start">2.0</text>
<text transform="translate(-0.23,723.10) scale(1.000,1.070)" font-size="27.50" text-anchor="start">0.0</text>
<text transform="translate(-0.23,623.40) scale(1.000,1.070)" font-size="27.50" text-anchor="start">0.2</text>
<text transform="translate(-0.23,523.70) scale(1.000,1.070)" font-size="27.50" text-anchor="start">0.4</text>
<text transform="translate(-0.23,424.00) scale(1.000,1.070)" font-size="27.50" text-anchor="start">0.6</text>
<text transform="translate(-0.23,324.30) scale(1.000,1.070)" font-size="27.50" text-anchor="start">0.8</text>
<path transform="translate(-0.23,224.60) scale(0.01343,-0.01343)" d="M806 0H525V1059Q371 915 162 846V1101Q272 1137 401 1237.5T578 1472H806Z" fill="#000"/><text transform="translate(15.07,224.60) scale(1.000,1.070)" font-size="27.50" text-anchor="start">.0</text>
<path transform="translate(-0.23,124.90) scale(0.01343,-0.01343)" d="M806 0H525V1059Q371 915 162 846V1101Q272 1137 401 1237.5T578 1472H806Z" fill="#000"/><text transform="translate(15.07,124.90) scale(1.000,1.070)" font-size="27.50" text-anchor="start">.2</text>
<path transform="translate(-0.23,25.20) scale(0.01343,-0.01343)" d="M806 0H525V1059Q371 915 162 846V1101Q272 1137 401 1237.5T578 1472H806Z" fill="#000"/><text transform="translate(15.07,25.20) scale(1.000,1.070)" font-size="27.50" text-anchor="start">.4</text>
<text transform="translate(411.90,806.50) scale(1.000,1.080)" font-size="40.70" text-anchor="start">N</text>
<rect x="454.6" y="789.7" width="19.6" height="4.4" fill="#000"/><rect x="454.6" y="798.3" width="19.6" height="4.4" fill="#000"/>
<text transform="translate(476.00,806.50) scale(1.000,1.080)" font-size="40.90" text-anchor="start">log a(t)</text>
<g transform="translate(445.60,375.30) rotate(0.810)"><path d="M0,0 H141.41" stroke="#000" stroke-width="4.50"/><path d="M141.41,-2.25 L99.61,-13.20 L105.51,0 L99.61,13.20 L141.41,2.25 Z" fill="#000"/></g>
<g transform="translate(445.60,556.30) rotate(0.164)"><path d="M0,0 H140.00" stroke="#000" stroke-width="4.50"/><path d="M140.00,-2.25 L98.20,-13.20 L104.10,0 L98.20,13.20 L140.00,2.25 Z" fill="#000"/></g>
<circle cx="445.65" cy="374.2" r="6.75" fill="#000"/>
<circle cx="445.65" cy="553.9" r="6.75" fill="#000"/>
<rect x="595.0" y="342.9" width="180.7" height="43.2" fill="#fff"/>
<rect x="596.6" y="535.8" width="204.1" height="37.1" fill="#fff"/>
<text transform="translate(596.70,372.20) scale(1.000,1.040)" font-size="35.00" text-anchor="start" stroke="#000" stroke-width="0.70" stroke-linejoin="round">Ω</text>
<text transform="translate(625.90,378.70) scale(1.000,1.000)" font-size="24.50" text-anchor="start" font-style="italic" stroke="#000" stroke-width="0.40" stroke-linejoin="round">ϕ</text>
<text transform="translate(642.10,379.00) scale(1.000,1.040)" font-size="28.20" text-anchor="start">0</text>
<text transform="translate(669.90,375.30) scale(0.860,1.000)" font-size="38.00" text-anchor="start" stroke="#000" stroke-width="1.20" stroke-linejoin="round">≈</text>
<text transform="translate(698.68,372.40) scale(1.000,1.075)" font-size="38.50" text-anchor="start">0</text>
<text transform="translate(720.19,372.40) scale(1.000,1.075)" font-size="38.50" text-anchor="start">.</text>
<text transform="translate(731.39,372.40) scale(1.000,1.075)" font-size="38.50" text-anchor="start">6</text>
<text transform="translate(752.68,372.40) scale(1.000,1.075)" font-size="38.50" text-anchor="start">8</text>
<text transform="translate(598.40,564.70) scale(1.000,1.040)" font-size="35.30" text-anchor="start" stroke="#000" stroke-width="0.70" stroke-linejoin="round">Ω</text>
<text transform="translate(626.40,571.80) scale(1.000,1.030)" font-size="27.70" text-anchor="start">dm0</text>
<text transform="translate(695.60,568.20) scale(0.860,1.000)" font-size="38.00" text-anchor="start" stroke="#000" stroke-width="1.20" stroke-linejoin="round">≈</text>
<text transform="translate(723.58,564.80) scale(1.000,1.075)" font-size="38.50" text-anchor="start">0</text>
<text transform="translate(745.59,564.80) scale(1.000,1.075)" font-size="38.50" text-anchor="start">.</text>
<text transform="translate(757.32,564.80) scale(1.000,1.075)" font-size="38.50" text-anchor="start">3</text>
<path transform="translate(778.05,564.80) scale(0.01880,-0.01880)" d="M806 0H525V1059Q371 915 162 846V1101Q272 1137 401 1237.5T578 1472H806Z" fill="#000"/>
<rect x="68.8" y="27.8" width="188.8" height="157.1" fill="none" stroke="#000" stroke-width="2.7"/>
<path d="M95.2,69.9 H151.0" stroke="#ff0000" stroke-width="4.2"/>
<path d="M95.2,135.2 H151.0" stroke="#0000ff" stroke-width="4.2"/>
<text transform="translate(167.20,80.70) scale(1.000,1.020)" font-size="30.20" text-anchor="start" stroke="#000" stroke-width="0.60" stroke-linejoin="round">Ω</text>
<text transform="translate(192.60,87.20) scale(1.000,1.000)" font-size="21.60" text-anchor="start" font-style="italic" stroke="#000" stroke-width="0.30" stroke-linejoin="round">ϕ</text>
<text transform="translate(167.20,146.30) scale(1.000,1.020)" font-size="30.20" text-anchor="start" stroke="#000" stroke-width="0.60" stroke-linejoin="round">Ω</text>
<text transform="translate(191.00,152.50) scale(1.000,1.030)" font-size="25.50" text-anchor="start">dm</text>
</svg>
</body></html>
